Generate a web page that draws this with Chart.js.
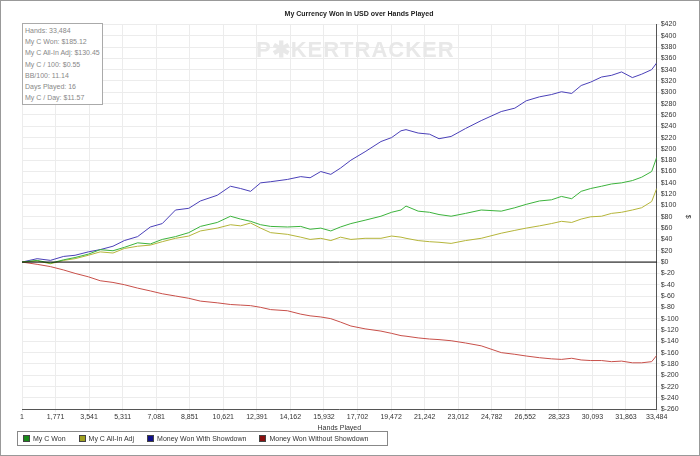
<!DOCTYPE html>
<html>
<head>
<meta charset="utf-8">
<script src="https://cdn.jsdelivr.net/npm/chart.js@4.4.0/dist/chart.umd.min.js"></script>
<style>
body { margin: 0; background: #fff; font-family: "Liberation Sans Narrow", "Liberation Sans", Arial, sans-serif; }
#wrap { position: relative; width: 698px; height: 454px; border: 1px solid #999; }
#info { position: absolute; left: 21px; top: 22px; width: 75px; padding: 1px 2px; border: 1px solid #aaa; background: #fff; font-size: 7px; color: #888; line-height: 11.2px; white-space: nowrap; }
#mark { position: absolute; left: 255px; top: 36px; font-family: "Liberation Sans", Arial, sans-serif; font-size: 22px; font-weight: bold; color: #e8e8e8; letter-spacing: 1px; }
#legend { position: absolute; left: 16px; top: 430px; border: 1px solid #888; padding: 3px 5px; font-size: 7px; color: #333; white-space: nowrap; }
#legend span { margin-right: 13px; }
#legend i { display: inline-block; width: 5px; height: 5px; margin-right: 3px; border: 1px solid #444; vertical-align: -1px; }
</style>
</head>
<body>
<div id="wrap">
<canvas id="c" width="698" height="454"></canvas>
<div id="mark">P&#10033;KERTRACKER</div>
<div id="info">Hands: 33,484<br>My C Won: $185.12<br>My C All-In Adj: $130.45<br>My C / 100: $0.55<br>BB/100: 11.14<br>Days Played: 16<br>My C / Day: $11.57</div>
<div id="legend"></div>
</div>
<script>
let xTicks = [1, 1771, 3541, 5311, 7081, 8851, 10621, 12391, 14162, 15932, 17702, 19472, 21242, 23012, 24782, 26552, 28323, 30093, 31863, 33484];

let hands   = [1, 800, 1500, 2200, 2800, 3500, 4126, 4800, 5400, 6100, 6771, 7400, 8100, 8800, 9415, 10300, 11000, 11531, 12060, 12589, 13118, 14000, 14705, 15200, 15763, 16292, 16800, 17350, 18100, 18937, 19500, 19995, 20259, 20900, 21500, 22000, 22639, 23400, 24226, 25284, 26000, 26600, 27300, 27929, 28458, 29000, 29500, 30000, 30574, 31100, 31632, 32200, 32690, 33219, 33484];
let showdown = [0, 6, 3, 10, 12, 18, 22, 28, 38, 45, 62, 68, 92, 95, 108, 118, 134, 130, 125, 140, 142, 146, 151, 149, 160, 155, 166, 180, 195, 213, 220, 232, 234, 228, 226, 218, 222, 236, 250, 266, 272, 285, 292, 296, 301, 298, 312, 318, 327, 330, 336, 326, 332, 340, 352];
let won      = [0, 3, -2, 4, 8, 14, 22, 20, 26, 34, 32, 40, 45, 52, 63, 70, 81, 76, 72, 66, 63, 62, 63, 58, 60, 55, 62, 68, 74, 81, 88, 92, 99, 90, 88, 84, 81, 86, 92, 90, 96, 102, 108, 110, 116, 112, 125, 130, 134, 138, 140, 144, 150, 160, 185];
let allIn    = [0, 2, -3, 3, 6, 12, 18, 16, 24, 28, 30, 36, 42, 46, 55, 60, 66, 64, 69, 60, 52, 49, 44, 40, 42, 38, 44, 40, 42, 42, 46, 44, 42, 38, 36, 35, 33, 38, 42, 51, 56, 60, 64, 68, 72, 70, 76, 80, 81, 86, 88, 92, 96, 107, 130];
let noShow   = [0, -4, -8, -14, -20, -26, -33, -36, -40, -46, -51, -56, -60, -64, -69, -72, -75, -76, -77, -80, -84, -86, -92, -95, -97, -100, -106, -113, -118, -122, -126, -130, -131, -134, -136, -137, -139, -143, -148, -160, -163, -166, -169, -171, -172, -170, -173, -174, -174, -176, -175, -178, -178, -176, -165];

function pts(v) { return v.map((y, i) => ({ x: hands[i], y: y })); }
function ds(label, color, v) {
    return { label: label, data: pts(v), borderColor: color, borderWidth: 1, pointRadius: 0, tension: 0, fill: false };
}

let series = [
    ['My C Won', '#3cb33c', '#1a8a1a', won],
    ['My C All-In Adj', '#b5b53a', '#a0a020', allIn],
    ['Money Won With Showdown', '#4a40b8', '#10108a', showdown],
    ['Money Won Without Showdown', '#c8504a', '#8a1010', noShow]
];

document.getElementById('legend').innerHTML = series.map(s => `<span><i style="background:${s[2]}"></i>${s[0]}</span>`).join('');

let zeroLine = {
    id: 'zeroLine',
    afterDatasetsDraw(chart) {
        let y = chart.scales.y.getPixelForValue(0);
        let ctx = chart.ctx;
        ctx.save();
        ctx.strokeStyle = '#000';
        ctx.lineWidth = 1;
        ctx.beginPath();
        ctx.moveTo(chart.chartArea.left, y);
        ctx.lineTo(chart.chartArea.right, y);
        ctx.stroke();
        ctx.restore();
    }
};

let font = { family: '"Liberation Sans Narrow", "Liberation Sans", Arial', size: 7 };

new Chart(document.getElementById('c'), {
    type: 'line',
    data: { datasets: series.map(s => ds(s[0], s[1], s[3])) },
    options: {
        responsive: false,
        animation: false,
        layout: { padding: { left: 21, right: 3, top: 0, bottom: 23 } },
        plugins: {
            legend: { display: false },
            tooltip: { enabled: false },
            title: { display: true, text: 'My Currency Won in USD over Hands Played', color: '#222', font: font, padding: { top: 9, bottom: 6 } }
        },
        scales: {
            x: {
                type: 'linear', min: 1, max: 33484,
                afterBuildTicks: axis => { axis.ticks = xTicks.map(v => ({ value: v })); },
                ticks: { autoSkip: false, maxRotation: 0, color: '#333', font: font, padding: 1, callback: v => v.toLocaleString('en-US') },
                grid: { color: '#ececec', tickLength: 3 },
                border: { color: '#555' },
                title: { display: true, text: 'Hands Played', color: '#333', font: font, padding: { top: 1, bottom: 0 } }
            },
            y: {
                position: 'right', min: -260, max: 420,
                ticks: { autoSkip: false, stepSize: 20, color: '#333', font: font, padding: 1, callback: v => v < 0 ? '$-' + (-v) : '$' + v },
                grid: { color: '#ececec', tickLength: 3 },
                border: { color: '#555' },
                title: { display: true, text: '$', color: '#333', font: font }
            }
        }
    },
    plugins: [zeroLine]
});
</script>
</body>
</html>
